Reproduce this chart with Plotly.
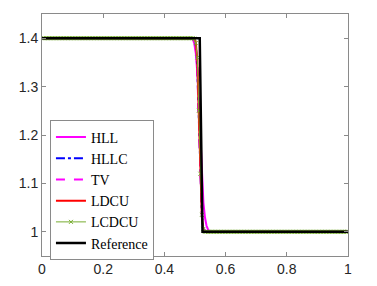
import plotly.graph_objects as go

# cell-centre grid (200 cells on [0,1])
N = 200
x_grid = [(i + 0.5) / N for i in range(N)]

# values in the transition cells, starting at x = 0.4925 (cell index 98)
start = 98
hll_mid   = [1.398, 1.390, 1.370, 1.330, 1.270, 1.190, 1.110, 1.060, 1.030, 1.013, 1.005, 1.001]
hllc_mid  = [1.400, 1.398, 1.385, 1.340, 1.220, 1.100, 1.030, 1.008, 1.002]
tv_mid    = [1.400, 1.397, 1.380, 1.330, 1.220, 1.100, 1.035, 1.010, 1.002]
ldcu_mid  = [1.400, 1.399, 1.392, 1.355, 1.240, 1.110, 1.030, 1.005]
lcdcu_mid = [1.400, 1.399, 1.390, 1.360, 1.250, 1.120, 1.035, 1.006]

def full(mid):
    return [1.4] * start + mid + [1.0] * (N - start - len(mid))

hll = full(hll_mid)
hllc = full(hllc_mid)
tv = full(tv_mid)
ldcu = full(ldcu_mid)
lcdcu = full(lcdcu_mid)

ref_x = [0.0, 0.5155, 0.5245, 1.0]
ref_y = [1.4, 1.4, 1.0, 1.0]

fig = go.Figure()
fig.add_trace(go.Scatter(x=x_grid, y=hll, name="HLL", mode="lines",
                         line=dict(color="#FF00FF", width=2)))
fig.add_trace(go.Scatter(x=x_grid, y=hllc, name="HLLC", mode="lines",
                         line=dict(color="#0000FF", width=2, dash="dashdot")))
fig.add_trace(go.Scatter(x=x_grid, y=tv, name="TV", mode="lines",
                         line=dict(color="#FF00FF", width=2, dash="dash")))
fig.add_trace(go.Scatter(x=x_grid, y=ldcu, name="LDCU", mode="lines",
                         line=dict(color="#FF0000", width=2)))
fig.add_trace(go.Scatter(x=x_grid, y=lcdcu, name="LCDCU", mode="lines+markers",
                         line=dict(color="#77AC30", width=1),
                         marker=dict(symbol="x-thin", size=4,
                                     line=dict(color="#77AC30", width=1))))
fig.add_trace(go.Scatter(x=ref_x, y=ref_y, name="Reference", mode="lines",
                         line=dict(color="#000000", width=2.5)))

axis_common = dict(showgrid=False, zeroline=False, showline=True, mirror="ticks",
                   linecolor="#8a8a8a", linewidth=1, ticks="inside", ticklen=4,
                   tickcolor="#8a8a8a", automargin=False,
                   tickfont=dict(family="Liberation Sans, Arial", size=14, color="#262626"))

fig.update_layout(
    width=361, height=270,
    margin=dict(l=34, r=21, t=6, b=22, autoexpand=False),
    paper_bgcolor="white", plot_bgcolor="white",
    xaxis=dict(range=[0, 1], tickvals=[0, 0.2, 0.4, 0.6, 0.8, 1],
               ticktext=["0", "0.2", "0.4", "0.6", "0.8", "1"], **axis_common),
    yaxis=dict(range=[0.95, 1.45], tickvals=[1, 1.1, 1.2, 1.3, 1.4],
               ticktext=["1", "1.1", "1.2", "1.3", "1.4"], **axis_common),
    legend=dict(x=0.026, y=0.56, xanchor="left", yanchor="top",
                bgcolor="white", bordercolor="#8a8a8a", borderwidth=1,
                font=dict(family="Liberation Serif, Times New Roman", size=14, color="#000"),
                itemwidth=30, tracegroupgap=0),
    showlegend=True,
)

fig.write_html("out.html")
